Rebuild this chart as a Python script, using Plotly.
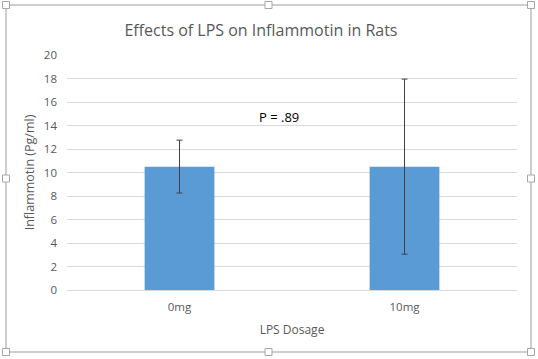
import plotly.graph_objects as go

categories = ["0mg", "10mg"]
values = [10.5, 10.5]
errors = [2.25, 7.45]
p_label = "P = .89"
p_label_y = 14.7

W, H = 538, 359
L, R, T, B = 67, 21, 55, 69
pw, ph = W - L - R, H - T - B

def px(x):
    return (x - L) / pw

def py(y):
    return (H - B - y) / ph

fig = go.Figure()
fig.add_trace(go.Bar(
    x=categories, y=values,
    marker=dict(color="#5b9bd5", line=dict(width=0)),
    error_y=dict(type="data", array=errors, visible=True,
                 color="#404040", thickness=1, width=3),
    width=0.31,
))

fig.add_annotation(x=0.44, y=p_label_y, text=p_label, showarrow=False,
                   font=dict(family="Open Sans", size=13, color="#000000"))

gray = "#bfbfbf"
shapes = [dict(type="rect", xref="paper", yref="paper",
               x0=px(6), x1=px(531), y0=py(5), y1=py(352),
               line=dict(color=gray, width=1.5), layer="above")]
hx = [6, 268.5, 531]
hy = [5, 178.5, 352]
for xx in hx:
    for yy in hy:
        if xx == 268.5 and yy == 178.5:
            continue
        shapes.append(dict(type="rect", xref="paper", yref="paper",
                           x0=px(xx - 3.5), x1=px(xx + 3.5),
                           y0=py(yy - 3.5), y1=py(yy + 3.5),
                           line=dict(color="#a6a6a6", width=1),
                           fillcolor="white", layer="above"))

fig.update_layout(
    width=W, height=H,
    margin=dict(l=L, r=R, t=T, b=B, pad=0),
    paper_bgcolor="white", plot_bgcolor="white",
    font=dict(family="Open Sans", color="#595959"),
    title=dict(text="Effects of LPS on Inflammotin in Rats",
               x=0.485, xanchor="center", y=1 - 30 / H, yanchor="middle",
               font=dict(family="Open Sans", size=16, color="#595959")),
    showlegend=False,
    shapes=shapes,
    bargap=0.69,
)
fig.update_xaxes(showgrid=False, showline=True, linecolor="#d9d9d9", linewidth=1,
                 ticks="", tickfont=dict(size=11.5, color="#595959"), ticklabelstandoff=6,
                 title=dict(text="LPS Dosage", font=dict(size=12, color="#595959"), standoff=12))
fig.update_yaxes(range=[0, 20], dtick=2, showgrid=True, gridcolor="#d9d9d9", gridwidth=1,
                 zeroline=False, showline=False, ticks="",
                 tickfont=dict(size=11.5, color="#595959"), ticklabelstandoff=9,
                 title=dict(text="Inflammotin (Pg/ml)", font=dict(size=12.5, color="#595959"), standoff=6))

fig.write_html("out.html", config={"displayModeBar": False})

with open("out.html", "r", encoding="utf-8") as f:
    html = f.read()
html = html.replace("<head>", "<head><style>html,body{margin:0;padding:0;overflow:hidden;}</style>", 1)
with open("out.html", "w", encoding="utf-8") as f:
    f.write(html)
